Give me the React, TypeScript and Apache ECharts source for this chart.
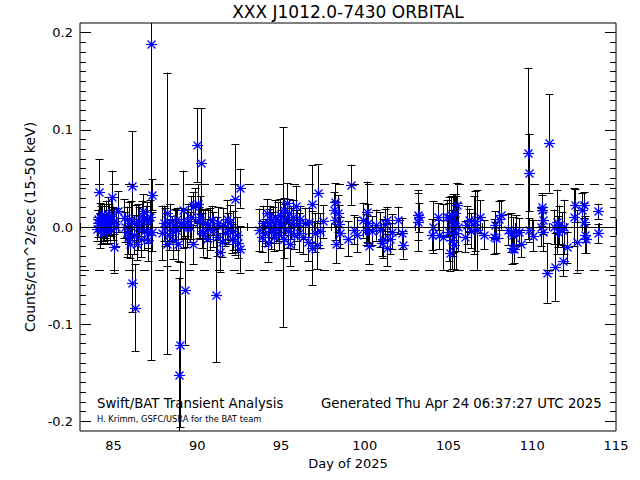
import { useEffect, useRef } from "react";
import * as echarts from "echarts";

// ---- data ----
const days = [
  84.00, 84.05, 84.10, 84.13, 84.18, 84.22, 84.26, 84.30, 84.34, 84.38, 84.42, 84.46, 84.50, 84.55, 84.60, 84.65, 84.70, 84.75, 84.80, 84.85, 84.91, 84.95, 85.00, 85.05, 85.15, 85.29,
  85.65, 85.70, 85.78, 85.85, 85.92, 86.00, 86.05, 86.08, 86.12, 86.20, 86.27, 86.33, 86.40, 86.45, 86.55, 86.62, 86.70, 86.78, 86.85, 86.92, 87.00, 87.05, 87.08, 87.15, 87.22, 87.28, 87.32,
  87.90, 88.00, 88.07, 88.17, 88.22, 88.30, 88.40, 88.50, 88.57, 88.65, 88.75, 88.82, 88.87, 88.93, 88.99, 89.05, 89.13, 89.20, 89.27, 89.37, 89.45, 89.55, 89.65, 89.73, 89.77, 89.87, 89.97,
  90.06, 90.10, 90.17, 90.24, 90.30, 90.36, 90.45, 90.56, 90.65, 90.75, 90.86, 90.93, 91.10, 91.16, 91.25, 91.36, 91.45, 91.55, 91.65, 91.75, 91.85, 91.95, 92.05, 92.15, 92.28, 92.35, 92.45, 92.55, 92.58,
  93.70, 93.85, 93.95, 94.05, 94.15, 94.20, 94.28, 94.35, 94.42, 94.50, 94.58, 94.65, 94.72, 94.80, 94.88, 94.95, 95.02, 95.10, 95.15, 95.20, 95.26, 95.34, 95.40, 95.47, 95.55, 95.62, 95.70, 95.80, 95.88, 95.95,
  96.05, 96.15, 96.30, 96.45, 96.60, 96.70, 96.83, 96.85, 97.00, 97.13, 97.23, 97.35, 97.49,
  98.15, 98.22, 98.25, 98.28, 98.40, 98.46, 98.55, 99.02, 99.18, 99.35, 99.52,
  99.92, 100.05, 100.15, 100.20, 100.25, 100.45, 100.70, 100.91, 101.00, 101.10, 101.20, 101.31, 101.35, 101.50, 101.60, 102.00, 102.20, 102.30,
  103.15, 103.20, 103.25, 104.00, 104.10, 104.40, 104.45, 104.70, 104.90, 105.00, 105.05, 105.10, 105.15, 105.20, 105.25, 105.30, 105.35, 105.40, 105.45, 105.50, 105.55, 105.98, 106.10, 106.20, 106.35, 106.50, 106.60, 106.70, 106.90, 107.10,
  107.70, 107.80, 107.85, 108.00, 108.12, 108.57, 108.75, 108.80, 108.85, 108.90, 109.00, 109.20, 109.30, 109.76, 109.78, 109.80, 110.07, 110.50, 110.56, 110.60, 110.62, 110.65, 110.86, 110.98,
  111.30, 111.36, 111.45, 111.52, 111.60, 111.75, 111.82, 111.90, 112.05, 112.50, 112.55, 112.65, 112.95, 113.09, 113.10, 113.15, 113.20, 113.94, 113.95,
];
const rates = [
  -0.002, 0.004, 0.008, 0.036, -0.004, 0.010, 0.002, 0.012, 0.006, -0.006, 0.004, 0.010, 0.001, 0.007, -0.003, 0.013, 0.005, 0.008, -0.002, 0.011, 0.031, 0.004, -0.021, 0.006, 0.000, 0.016,
  0.009, 0.000, -0.005, -0.010, 0.004, -0.017, 0.008, 0.0425, -0.058, -0.008, -0.083, 0.003, -0.017, 0.000, 0.006, -0.012, 0.011, 0.016, -0.004, 0.008, 0.005, -0.006, -0.013, 0.010, 0.188, 0.033, -0.005,
  -0.006, 0.004, 0.000, 0.014, -0.018, -0.008, 0.005, -0.003, -0.013, 0.002, -0.003, 0.008, -0.017, -0.152, -0.121, 0.004, 0.018, 0.003, -0.065, -0.001, 0.006, 0.000, 0.010, 0.022, -0.018, 0.023, 0.084,
  0.024, 0.005, 0.010, 0.0655, -0.004, -0.0065, 0.004, -0.012, 0.002, -0.002, 0.007, -0.003, -0.070, -0.010, 0.004, -0.026, -0.015, 0.002, -0.006, 0.008, -0.002, 0.005, -0.012, -0.004, 0.0285, -0.008, -0.016, 0.040, -0.023,
  -0.003, -0.010, 0.004, -0.006, 0.014, -0.016, 0.002, 0.008, -0.004, 0.005, -0.010, 0.010, -0.002, 0.006, -0.008, 0.012, 0.003, 0.000, 0.018, -0.012, 0.008, 0.025, -0.004, 0.014, -0.018, 0.004, 0.010, -0.008, 0.0216, 0.002,
  -0.006, 0.008, -0.010, 0.004, -0.015, 0.005, 0.024, -0.022, -0.006, -0.0185, 0.0346, -0.004, 0.006,
  0.018, 0.026, 0.007, -0.017, 0.014, 0.003, -0.006, -0.012, 0.0432, -0.003, -0.008,
  0.007, -0.003, 0.0158, 0.004, -0.020, -0.004, 0.002, -0.003, -0.016, -0.012, 0.003, 0.007, -0.022, -0.012, -0.005, 0.007, -0.0065, -0.0185,
  0.005, 0.0123, 0.010, -0.008, 0.000, 0.0106, -0.008, -0.010, 0.010, 0.0106, -0.005, -0.027, 0.012, -0.013, 0.002, -0.0185, 0.004, 0.014, -0.006, 0.0226, 0.000, -0.010, 0.002, 0.007, -0.004, 0.002, 0.006, -0.003, 0.0106, -0.008,
  -0.010, 0.002, -0.011, 0.008, 0.0123, -0.003, -0.006, -0.022, -0.008, -0.023, -0.004, -0.005, -0.017, 0.0758, 0.056, -0.003, -0.009, 0.000, 0.021, 0.017, 0.007, -0.005, -0.0477, 0.086,
  0.000, -0.041, 0.0055, -0.005, 0.002, -0.003, -0.0347, 0.000, -0.021, 0.010, 0.0226, -0.015, 0.0175, 0.0226, 0.005, -0.008, -0.012, -0.0065, 0.016,
];
const errors = [
  0.012, 0.014, 0.010, 0.034, 0.018, 0.015, 0.020, 0.012, 0.016, 0.010, 0.018, 0.014, 0.012, 0.020, 0.015, 0.018, 0.012, 0.016, 0.014, 0.020, 0.027, 0.017, 0.026, 0.013, 0.020, 0.021,
  0.020, 0.015, 0.026, 0.018, 0.022, 0.015, 0.019, 0.056, 0.030, 0.020, 0.045, 0.020, 0.017, 0.024, 0.015, 0.019, 0.016, 0.018, 0.020, 0.014, 0.021, 0.016, 0.022, 0.018, 0.325, 0.016, 0.020,
  0.028, 0.018, 0.020, 0.145, 0.022, 0.016, 0.019, 0.014, 0.020, 0.017, 0.021, 0.012, 0.018, 0.100, 0.085, 0.016, 0.040, 0.014, 0.056, 0.020, 0.018, 0.015, 0.022, 0.014, 0.020, 0.017, 0.038,
  0.020, 0.016, 0.022, 0.057, 0.018, 0.024, 0.015, 0.020, 0.016, 0.022, 0.015, 0.018, 0.069, 0.020, 0.017, 0.020, 0.016, 0.018, 0.014, 0.020, 0.016, 0.018, 0.015, 0.020, 0.057, 0.018, 0.016, 0.020, 0.024,
  0.022, 0.016, 0.018, 0.014, 0.015, 0.020, 0.017, 0.014, 0.019, 0.016, 0.015, 0.018, 0.014, 0.020, 0.016, 0.017, 0.015, 0.103, 0.012, 0.020, 0.016, 0.020, 0.018, 0.015, 0.022, 0.016, 0.018, 0.015, 0.021, 0.016,
  0.020, 0.014, 0.018, 0.016, 0.020, 0.015, 0.040, 0.038, 0.020, 0.025, 0.030, 0.018, 0.017,
  0.018, 0.019, 0.020, 0.020, 0.019, 0.020, 0.016, 0.018, 0.021, 0.015, 0.018,
  0.018, 0.016, 0.031, 0.020, 0.018, 0.015, 0.016, 0.018, 0.014, 0.020, 0.016, 0.014, 0.018, 0.016, 0.018, 0.014, 0.016, 0.014,
  0.030, 0.026, 0.015, 0.016, 0.027, 0.014, 0.015, 0.034, 0.018, 0.020, 0.030, 0.018, 0.020, 0.030, 0.032, 0.025, 0.030, 0.020, 0.038, 0.023, 0.025, 0.016, 0.020, 0.012, 0.018, 0.030, 0.031, 0.041, 0.017, 0.015,
  0.018, 0.014, 0.016, 0.019, 0.015, 0.016, 0.020, 0.016, 0.018, 0.014, 0.016, 0.014, 0.014, 0.088, 0.040, 0.012, 0.016, 0.020, 0.014, 0.016, 0.014, 0.020, 0.031, 0.0505,
  0.018, 0.035, 0.033, 0.016, 0.020, 0.018, 0.016, 0.028, 0.016, 0.030, 0.017, 0.032, 0.018, 0.013, 0.020, 0.019, 0.015, 0.010, 0.008,
];
const xTickValues = [85, 90, 95, 100, 105, 110, 115];
const yTickValues = [-0.2, -0.1, 0.0, 0.1, 0.2];
const thresholdLevel = 0.0442;
const chartTitle = "XXX J1012.0-7430 ORBITAL";
const xTitle = "Day of 2025";
const yTitle = "Counts/cm^2/sec (15-50 keV)";
const leftNote = "Swift/BAT Transient Analysis";
const creditNote = "H. Krimm, GSFC/USRA for the BAT team";
const generatedNote = "Generated Thu Apr 24 06:37:27 UTC 2025";

const X_MIN = 83;
const X_MAX = 115;
const Y_MIN = -0.21;
const Y_MAX = 0.21;

const xMinorTicks: number[] = [];
for (let d = X_MIN; d <= X_MAX; d++) xMinorTicks.push(d);
const yMinorTicks: number[] = [];
for (let i = -20; i <= 20; i++) yMinorTicks.push(i / 100);

const FONT = "DejaVu Sans, sans-serif";

export default function App() {
  const ref = useRef<HTMLDivElement>(null);

  useEffect(() => {
    if (!ref.current) return;
    const chart = echarts.init(ref.current, undefined, { renderer: "svg" });
    const points = days.map((d, i) => [d, rates[i], errors[i]]);

    const xAxisBase = (position: string, values: number[], len: number, extra: any = {}) => ({
      type: "value",
      min: X_MIN,
      max: X_MAX,
      position,
      splitLine: { show: false },
      axisLine: { show: false },
      axisTick: { show: true, inside: true, length: len, customValues: values, lineStyle: { color: "#000", width: 1 } },
      axisLabel: { show: false },
      ...extra,
    });
    const yAxisBase = (position: string, values: number[], len: number, extra: any = {}) => ({
      type: "value",
      min: Y_MIN,
      max: Y_MAX,
      position,
      splitLine: { show: false },
      axisLine: { show: false },
      axisTick: { show: true, inside: true, length: len, customValues: values, lineStyle: { color: "#000", width: 1 } },
      axisLabel: { show: false },
      ...extra,
    });

    chart.setOption({
      animation: false,
      backgroundColor: "#fff",
      grid: {
        left: 80,
        right: 24,
        top: 23,
        bottom: 49,
        show: true,
        borderColor: "#000",
        borderWidth: 1,
        backgroundColor: "transparent",
      },
      xAxis: [
        xAxisBase("bottom", xTickValues, 8, {
          axisLabel: {
            show: true,
            customValues: xTickValues,
            color: "#000",
            fontSize: 13,
            fontFamily: FONT,
            margin: 8,
          },
          name: xTitle,
          nameLocation: "middle",
          nameGap: 24,
          nameTextStyle: { color: "#000", fontSize: 13, fontFamily: FONT },
        }),
        xAxisBase("bottom", xMinorTicks, 4),
        xAxisBase("top", xTickValues, 8),
        xAxisBase("top", xMinorTicks, 4),
      ],
      yAxis: [
        yAxisBase("left", yTickValues, 11, {
          axisLabel: {
            show: true,
            customValues: yTickValues,
            color: "#000",
            fontSize: 13,
            fontFamily: FONT,
            margin: 7,
            formatter: (v: number) => v.toFixed(1),
          },
          name: yTitle,
          nameLocation: "middle",
          nameGap: 43,
          nameTextStyle: { color: "#000", fontSize: 14, fontFamily: FONT },
        }),
        yAxisBase("left", yMinorTicks, 6),
        yAxisBase("right", yTickValues, 11),
        yAxisBase("right", yMinorTicks, 6),
      ],
      graphic: [
        {
          type: "text",
          x: 348,
          y: 12,
          style: { text: chartTitle, font: `17px ${FONT}`, fill: "#000", align: "center", verticalAlign: "middle" },
        },
        {
          type: "text",
          x: 97,
          y: 403,
          style: { text: leftNote, font: `13.3px ${FONT}`, fill: "#000", align: "left", verticalAlign: "middle" },
        },
        {
          type: "text",
          x: 97,
          y: 419,
          style: { text: creditNote, font: `8.3px ${FONT}`, fill: "#000", align: "left", verticalAlign: "middle" },
        },
        {
          type: "text",
          x: 321,
          y: 403,
          style: { text: generatedNote, font: `13.3px ${FONT}`, fill: "#000", align: "left", verticalAlign: "middle" },
        },
      ],
      series: [
        {
          type: "line",
          data: [],
          silent: true,
          markLine: {
            silent: true,
            symbol: "none",
            precision: 6,
            label: { show: false },
            data: [
              { yAxis: thresholdLevel, lineStyle: { type: [9, 6], color: "#000", width: 1 } },
              { yAxis: -thresholdLevel, lineStyle: { type: [9, 6], color: "#000", width: 1 } },
              { yAxis: 0, lineStyle: { type: "solid", color: "#000", width: 1 } },
            ],
          },
        },
        {
          type: "custom",
          name: "errors",
          data: points,
          clip: true,
          silent: true,
          renderItem: (params: any, api: any) => {
            const x = api.value(0);
            const y = api.value(1);
            const e = api.value(2);
            const top = api.coord([x, y + e]);
            const bot = api.coord([x, y - e]);
            const cs = params.coordSys;
            const cx = Math.round(top[0]) + 0.5;
            const clampY = (v: number) => Math.max(cs.y, Math.min(cs.y + cs.height, v));
            const st = { stroke: "#000", lineWidth: 1 };
            const children: any[] = [
              { type: "line", shape: { x1: cx, y1: clampY(top[1]), x2: cx, y2: clampY(bot[1]) }, style: st },
            ];
            const capY1 = Math.round(top[1]) + 0.5;
            const capY2 = Math.round(bot[1]) + 0.5;
            if (top[1] >= cs.y) children.push({ type: "line", shape: { x1: cx - 4, y1: capY1, x2: cx + 4, y2: capY1 }, style: st });
            if (bot[1] <= cs.y + cs.height) children.push({ type: "line", shape: { x1: cx - 4, y1: capY2, x2: cx + 4, y2: capY2 }, style: st });
            return { type: "group", children };
          },
          z: 3,
        },
        {
          type: "custom",
          name: "rate",
          data: points,
          clip: true,
          silent: true,
          renderItem: (_params: any, api: any) => {
            const c = api.coord([api.value(0), api.value(1)]);
            const cx = Math.round(c[0]) + 0.5;
            const cy = Math.round(c[1]) + 0.5;
            const r = 5.5;
            const d = 4;
            const st = { stroke: "#0000ff", lineWidth: 1.2 };
            return {
              type: "group",
              children: [
                { type: "line", shape: { x1: cx - r, y1: cy, x2: cx + r, y2: cy }, style: st },
                { type: "line", shape: { x1: cx, y1: cy - r, x2: cx, y2: cy + r }, style: st },
                { type: "line", shape: { x1: cx - d, y1: cy - d, x2: cx + d, y2: cy + d }, style: st },
                { type: "line", shape: { x1: cx - d, y1: cy + d, x2: cx + d, y2: cy - d }, style: st },
              ],
            };
          },
          z: 4,
        },
      ],
    });

    return () => chart.dispose();
  }, []);

  return (
    <div
      ref={ref}
      style={{ width: 640, height: 480, position: "fixed", left: 0, top: 0, background: "#fff" }}
    />
  );
}
